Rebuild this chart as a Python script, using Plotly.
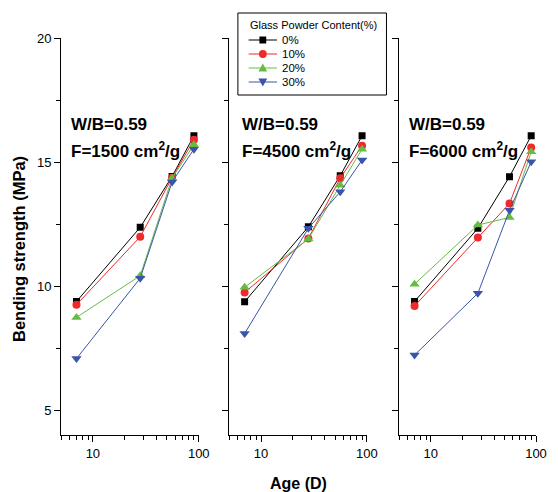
import plotly.graph_objects as go
import math

ages = [7, 28, 56, 90]
series_names = ["0%", "10%", "20%", "30%"]
legend_title = "Glass Powder Content(%)"

# Panel 1: F=1500 cm2/g
p1_0 = [9.38, 12.37, 14.42, 16.06]
p1_10 = [9.25, 11.99, 14.37, 15.90]
p1_20 = [8.74, 10.42, 14.35, 15.70]
p1_30 = [7.08, 10.32, 14.20, 15.52]

# Panel 2: F=4500 cm2/g
p2_0 = [9.37, 12.39, 14.45, 16.06]
p2_10 = [9.74, 11.92, 14.35, 15.66]
p2_20 = [9.95, 11.90, 14.07, 15.52]
p2_30 = [8.09, 12.33, 13.80, 15.08]

# Panel 3: F=6000 cm2/g
p3_0 = [9.38, 12.33, 14.41, 16.06]
p3_10 = [9.20, 11.96, 13.33, 15.59]
p3_20 = [10.08, 12.46, 12.77, 15.42]
p3_30 = [7.22, 9.71, 13.06, 15.01]

panel_line1 = ["W/B=0.59", "W/B=0.59", "W/B=0.59"]
panel_line2 = ["F=1500 cm<sup>2</sup>/g", "F=4500 cm<sup>2</sup>/g",
               "F=6000 cm<sup>2</sup>/g"]

y_ticks = [5, 10, 15, 20]
x_ticks = [10, 100]
x_minor = [5, 6, 7, 8, 9, 20, 30, 40, 50, 60, 70, 80, 90]

colors = ["#000000", "#EE2A2A", "#66BB44", "#3A55A8"]
symbols = ["square", "circle", "triangle-up", "triangle-down"]
sizes = [7, 8, 9, 9]

panels = [[p1_0, p1_10, p1_20, p1_30],
          [p2_0, p2_10, p2_20, p2_30],
          [p3_0, p3_10, p3_20, p3_30]]

W, H = 558, 492
ML, MR, MT, MB = 61, 11, 38, 57
PW, PH = W - ML - MR, H - MT - MB


def px_x(px):
    return (px - ML) / PW


def px_y(py):
    return (H - MB - py) / PH


fig = go.Figure()
for pi, panel in enumerate(panels):
    xa = "x" if pi == 0 else f"x{pi+1}"
    ya = "y" if pi == 0 else f"y{pi+1}"
    for si, vals in enumerate(panel):
        fig.add_trace(go.Scatter(
            x=ages, y=vals, mode="lines+markers",
            name=series_names[si], showlegend=False,
            line=dict(color=colors[si], width=1),
            marker=dict(symbol=symbols[si], size=sizes[si], color=colors[si],
                        line=dict(width=0)),
            xaxis=xa, yaxis=ya))

font_family = "Liberation Sans, Arial, sans-serif"
domains = [[0.0, 0.290], [0.354, 0.644], [0.712, 1.0]]

layout = dict(
    width=W, height=H,
    margin=dict(l=ML, r=MR, t=MT, b=MB),
    paper_bgcolor="white", plot_bgcolor="white",
    font=dict(family=font_family, size=13, color="black"),
    showlegend=False,
)

for pi in range(3):
    xk = "xaxis" if pi == 0 else f"xaxis{pi+1}"
    yk = "yaxis" if pi == 0 else f"yaxis{pi+1}"
    layout[xk] = dict(
        type="log", domain=domains[pi], range=[math.log10(5), 2],
        tickvals=x_ticks, ticktext=[str(v) for v in x_ticks],
        ticks="outside", ticklen=6, tickwidth=1, tickcolor="black",
        showline=True, linecolor="black", linewidth=1,
        showgrid=False, zeroline=False,
        minor=dict(tickvals=x_minor, ticks="outside", ticklen=4,
                   tickwidth=1, tickcolor="black", showgrid=False),
        anchor="y" if pi == 0 else f"y{pi+1}",
        tickfont=dict(size=13),
    )
    layout[yk] = dict(
        domain=[0, 1], range=[4, 20],
        tickvals=y_ticks, showticklabels=(pi == 0),
        ticks="outside", ticklen=6, tickwidth=1, tickcolor="black",
        showline=True, linecolor="black", linewidth=1,
        showgrid=False, zeroline=False,
        minor=dict(tickvals=[7.5, 12.5, 17.5], ticks="outside", ticklen=4,
                   tickwidth=1, tickcolor="black", showgrid=False),
        anchor="x" if pi == 0 else f"x{pi+1}",
        tickfont=dict(size=13),
    )

fig.update_layout(**layout)

annotations = []
shapes = []
label_x_px = [72, 247, 418]
bold17 = dict(size=17, family=font_family, color="black", weight="bold")
for pi in range(3):
    annotations.append(dict(
        text=panel_line1[pi], xref="paper", yref="paper",
        x=px_x(label_x_px[pi]), y=px_y(125), xshift=-3,
        xanchor="left", yanchor="middle", showarrow=False, font=bold17))
    annotations.append(dict(
        text=panel_line2[pi], xref="paper", yref="paper",
        x=px_x(label_x_px[pi]), y=px_y(153), xshift=-3, yshift=3,
        xanchor="left", yanchor="middle", showarrow=False, font=bold17))

annotations.append(dict(
    text="<b>Age (D)</b>", xref="paper", yref="paper", x=px_x(304), y=px_y(483),
    xanchor="center", yanchor="middle", showarrow=False,
    font=dict(size=16, family=font_family, color="black")))
annotations.append(dict(
    text="<b>Bending strength (MPa)</b>", xref="paper", yref="paper",
    x=px_x(18), y=px_y(249), xanchor="center", yanchor="middle",
    textangle=-90, showarrow=False,
    font=dict(size=16.5, family=font_family, color="black")))

# Custom legend box (pixel layout converted to paper coords)
shapes.append(dict(type="rect", xref="paper", yref="paper",
                   x0=px_x(242), x1=px_x(394), y0=px_y(13), y1=px_y(95),
                   line=dict(color="black", width=1), fillcolor="white",
                   layer="above"))
annotations.append(dict(
    text=legend_title, xref="paper", yref="paper", x=px_x(252), y=px_y(25),
    xanchor="left", yanchor="middle", showarrow=False,
    font=dict(size=11, family=font_family, color="black")))
item_y = [40, 54, 68, 82]
for si in range(4):
    cy = item_y[si]
    c = colors[si]
    shapes.append(dict(type="line", xref="paper", yref="paper",
                       x0=px_x(253), x1=px_x(282), y0=px_y(cy), y1=px_y(cy),
                       line=dict(color=c, width=1), layer="above"))
    cx = 267.5
    if symbols[si] == "square":
        shapes.append(dict(type="rect", xref="paper", yref="paper",
                           x0=px_x(cx - 3.5), x1=px_x(cx + 3.5),
                           y0=px_y(cy + 3.5), y1=px_y(cy - 3.5),
                           fillcolor=c, line=dict(width=0), layer="above"))
    elif symbols[si] == "circle":
        shapes.append(dict(type="circle", xref="paper", yref="paper",
                           x0=px_x(cx - 4), x1=px_x(cx + 4),
                           y0=px_y(cy + 4), y1=px_y(cy - 4),
                           fillcolor=c, line=dict(width=0), layer="above"))
    else:
        s = 4.5
        if symbols[si] == "triangle-up":
            pts = [(cx - s, cy + s * 0.8), (cx + s, cy + s * 0.8), (cx, cy - s)]
        else:
            pts = [(cx - s, cy - s * 0.8), (cx + s, cy - s * 0.8), (cx, cy + s)]
        path = "M {} {} L {} {} L {} {} Z".format(
            *[v for p in pts for v in (px_x(p[0]), px_y(p[1]))])
        shapes.append(dict(type="path", xref="paper", yref="paper", path=path,
                           fillcolor=c, line=dict(width=0), layer="above"))
    annotations.append(dict(
        text=series_names[si], xref="paper", yref="paper",
        x=px_x(285), y=px_y(cy), xanchor="left", yanchor="middle",
        showarrow=False,
        font=dict(size=11.5, family=font_family, color="black")))

fig.update_layout(annotations=annotations, shapes=shapes)

fig.write_html("out.html")
